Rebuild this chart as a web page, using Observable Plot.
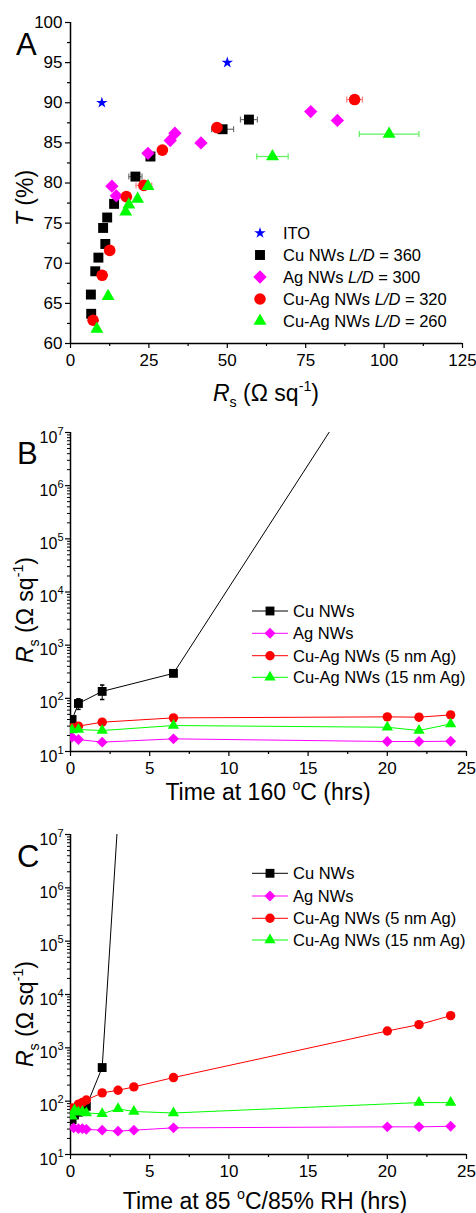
<!DOCTYPE html>
<html><head><meta charset="utf-8">
<script src="https://cdn.jsdelivr.net/npm/d3@7"></script>
<script src="https://cdn.jsdelivr.net/npm/@observablehq/plot@0.6"></script>
<style>
body{margin:0;background:#fff;}
#chart{width:476px;}
svg{display:block;}
</style></head><body><div id="chart"></div>
<script>
// ---------- Panel A: T (%) vs Rs ----------
const itoRs = [10, 50];
const itoT = [90, 95];
const cuRs = [6.5, 6.6, 7.9, 8.9, 10.4, 11.1, 11.7, 13.9, 20.7, 25.5, 48.5, 56.9];
const cuT = [66.1, 63.7, 69.0, 70.7, 74.4, 72.4, 75.7, 77.4, 80.8, 83.3, 86.7, 87.9];
const cuRsErr = [0, 0, 0, 0, 0, 0, 0, 0, 2.1, 0, 3.5, 2.7];
const agRs = [13.2, 14.6, 24.7, 31.8, 33.3, 41.6, 76.6, 85.1];
const agT = [79.6, 78.4, 83.7, 85.3, 86.2, 85.0, 88.9, 87.8];
const cuag320Rs = [7.2, 10.1, 12.5, 17.8, 23.4, 29.3, 46.7, 90.6];
const cuag320T = [62.9, 68.5, 71.6, 78.3, 79.7, 84.1, 86.9, 90.4];
const cuag320RsErr = [0, 0, 0, 0, 2.5, 0, 0, 2.5];
const cuag260Rs = [8.4, 12.0, 17.6, 18.6, 21.4, 24.7, 64.4, 101.6];
const cuag260T = [61.8, 65.9, 76.4, 77.3, 78.0, 79.6, 83.3, 86.1];
const cuag260RsErr = [0, 0, 0, 0, 0, 0, 5.0, 9.5];
const xTicksA = [0, 25, 50, 75, 100, 125];
const yTicksA = [60, 65, 70, 75, 80, 85, 90, 95, 100];

// ---------- Panel B: Rs vs time at 160 °C ----------
const heatCuTime = [0.1, 0.5, 2, 6.5, 20];
const heatCu = [40, 80, 135, 295, 5e8];
const heatCuLo = [NaN, 62, 95, NaN, NaN];
const heatCuHi = [NaN, 98, 178, NaN, NaN];
const heatTime = [0.1, 0.5, 2, 6.5, 20, 22, 24];
const heatAg = [18.6, 16.8, 15.0, 17.3, 15.4, 15.4, 15.6];
const heatCuAg5 = [28, 30, 35.6, 42.9, 44.8, 44.2, 48.8];
const heatCuAg15 = [25.5, 25.9, 24.8, 30.8, 28.6, 24.8, 33];

// ---------- Panel C: Rs vs time at 85 °C / 85% RH ----------
const humidCuTime = [0.1, 0.25, 0.5, 1, 2, 3];
const humidCu = [45, 55, 62, 80, 427, 2.1e7];
const humidAgTime = [0.2, 0.5, 0.75, 1, 2, 3, 4, 6.5, 20, 22, 24];
const humidAg = [31.6, 30.5, 30.5, 29.6, 28.6, 27.4, 28.6, 31.6, 33, 33, 33.8];
const humidCuAg5Time = [0.1, 0.5, 0.75, 1, 2, 3, 4, 6.5, 20, 22, 24];
const humidCuAg5 = [75, 88, 95, 105, 143, 160, 185, 277, 2070, 2720, 4010];
const humidCuAg15Time = [0.1, 0.25, 0.5, 0.75, 1, 2, 3, 4, 6.5, 22, 24];
const humidCuAg15 = [52, 68, 62, 64, 60, 58, 72, 64, 60, 94, 94];

const timeTicks = [0, 5, 10, 15, 20, 25];
const timeMinor = [2.5, 7.5, 12.5, 17.5, 22.5];
const logTicks = [1e1, 1e2, 1e3, 1e4, 1e5, 1e6, 1e7];

// ---------- helpers ----------
const FONT = "'Liberation Sans', Arial, Helvetica, sans-serif";
const zip = (xs, ys, es) => xs.map((x, i) => ({x, y: ys[i], e: es ? es[i] : 0}));
const vbar = {draw(ctx, size) { const h = Math.sqrt(size) / 2; ctx.moveTo(0, -h); ctx.lineTo(0, h); }};
const hbar = {draw(ctx, size) { const h = Math.sqrt(size) / 2; ctx.moveTo(-h, 0); ctx.lineTo(h, 0); }};
const logMinor = [];
for (let p = 1; p < 7; p++) for (let k = 2; k <= 9; k++) logMinor.push(k * 10 ** p);

function rich(sel, parts, fs) {
  let shift = 0;
  for (const p of parts) {
    const ts = sel.append("tspan").text(p.t);
    const target = p.sub ? 0.28 * fs : p.sup ? -0.42 * fs : 0;
    if (target !== shift) { ts.attr("dy", target - shift); shift = target; }
    if (p.sub || p.sup) ts.style("font-size", (0.62 * fs) + "px");
    if (p.i) ts.attr("font-style", "italic");
  }
}
function addText(svg, x, y, parts, fs, opts = {}) {
  const t = d3.select(svg).append("text")
    .attr("font-family", FONT).style("font-size", fs + "px").attr("fill", "#000")
    .attr("text-anchor", opts.anchor || "start");
  if (opts.rotate) t.attr("transform", `translate(${x},${y}) rotate(-90)`);
  else t.attr("x", x).attr("y", y);
  rich(t, parts, fs);
  return t;
}
const rsParts = [{t: "R", i: true}, {t: "s", sub: true}, {t: " (\u03A9 sq"}, {t: "-1", sup: true}, {t: ")"}];

// ---------- Panel A ----------
const A = {
  ito: zip(itoRs, itoT), cu: zip(cuRs, cuT, cuRsErr), ag: zip(agRs, agT),
  r: zip(cuag320Rs, cuag320T, cuag320RsErr), g: zip(cuag260Rs, cuag260T, cuag260RsErr)
};
function errMarks(rows, color) {
  const e = rows.filter(d => d.e > 0);
  return [
    Plot.ruleY(e, {y: "y", x1: d => d.x - d.e, x2: d => d.x + d.e, stroke: color, strokeWidth: 1.2}),
    Plot.dot(e, {x: d => d.x - d.e, y: "y", symbol: vbar, r: 3.4, stroke: color, strokeWidth: 1.2, fill: "none"}),
    Plot.dot(e, {x: d => d.x + d.e, y: "y", symbol: vbar, r: 3.4, stroke: color, strokeWidth: 1.2, fill: "none"})
  ];
}
const plotA = Plot.plot({
  width: 476, height: 410, marginTop: 22, marginBottom: 67, marginLeft: 70, marginRight: 14,
  style: {fontFamily: FONT, fontSize: "17px", color: "#000", background: "#fff"},
  x: {domain: [0, 125], label: null},
  y: {domain: [60, 100], label: null},
  marks: [
    Plot.axisX({ticks: xTicksA, tickSize: 5, tickPadding: 5, strokeWidth: 1.2, label: null}),
    Plot.axisX({ticks: [12.5, 37.5, 62.5, 87.5, 112.5], tickSize: 3, tickFormat: () => "", strokeWidth: 1.2, label: null}),
    Plot.axisY({ticks: yTicksA, tickSize: 5, tickPadding: 3, strokeWidth: 1.2, label: null}),
    Plot.axisY({ticks: [62.5, 67.5, 72.5, 77.5, 82.5, 87.5, 92.5, 97.5], tickSize: 3, tickFormat: () => "", strokeWidth: 1.2, label: null}),
    Plot.ruleX([0], {strokeWidth: 1.5}),
    Plot.ruleY([60], {strokeWidth: 1.5}),
    ...errMarks(A.cu, "#707070"),
    ...errMarks(A.r, "#ff8080"),
    ...errMarks(A.g, "#5ef05e"),
    Plot.dot(A.cu, {x: "x", y: "y", symbol: "square", r: 5.6, fill: "#000"}),
    Plot.dot(A.ag, {x: "x", y: "y", symbol: "diamond2", r: 6.0, fill: "#ff00ff"}),
    Plot.dot(A.r, {x: "x", y: "y", symbol: "circle", r: 5.8, fill: "#ff0000"}),
    Plot.dot(A.g, {x: "x", y: "y", symbol: "triangle", r: 4.8, fill: "#00ff00"}),
    Plot.dot(A.ito, {x: "x", y: "y", symbol: "star", r: 3.6, fill: "#0000ff"})
  ]
});
document.getElementById("chart").appendChild(plotA);
addText(plotA, 16, 55, [{t: "A"}], 31);
addText(plotA, 33, 198, [{t: "T", i: true}, {t: " (%)"}], 23, {rotate: true, anchor: "middle"});
addText(plotA, 266, 401, rsParts, 23, {anchor: "middle"});
(function legendA() {
  const items = [
    {sym: d3.symbolStar, r: 3.6, c: "#0000ff", parts: [{t: "ITO"}]},
    {sym: d3.symbolSquare, r: 5.6, c: "#000", parts: [{t: "Cu NWs "}, {t: "L/D", i: true}, {t: " = 360"}]},
    {sym: d3.symbolDiamond2, r: 6.0, c: "#ff00ff", parts: [{t: "Ag NWs "}, {t: "L/D", i: true}, {t: " = 300"}]},
    {sym: d3.symbolCircle, r: 5.8, c: "#ff0000", parts: [{t: "Cu-Ag NWs "}, {t: "L/D", i: true}, {t: " = 320"}]},
    {sym: d3.symbolTriangle, r: 4.8, c: "#00ff00", parts: [{t: "Cu-Ag NWs "}, {t: "L/D", i: true}, {t: " = 260"}]}
  ];
  const ys = [233, 255, 277, 299, 321];
  items.forEach((it, i) => {
    d3.select(plotA).append("path")
      .attr("d", d3.symbol(it.sym, it.r * it.r * Math.PI)())
      .attr("transform", `translate(260,${ys[i]})`).attr("fill", it.c);
    addText(plotA, 283, ys[i] + 6, it.parts, 16.5);
  });
})();

// ---------- Panels B & C ----------
function logPanel(cfg) {
  const marks = [
    Plot.axisX({ticks: timeTicks, tickSize: 5, tickPadding: 5, strokeWidth: 1.2, label: null}),
    Plot.axisX({ticks: timeMinor, tickSize: 3, tickFormat: () => "", strokeWidth: 1.2, label: null}),
    Plot.axisY({ticks: logTicks, tickSize: 5, tickPadding: 2, strokeWidth: 1.2, label: null,
      tickFormat: d => "10^" + Math.round(Math.log10(d))}),
    Plot.axisY({ticks: logMinor, tickSize: 3, tickFormat: () => "", strokeWidth: 1, label: null}),
    Plot.ruleX([0], {strokeWidth: 1.5}),
    Plot.ruleY([10], {strokeWidth: 1.5})
  ];
  for (const s of cfg.series) {
    marks.push(Plot.line(s.rows, {x: "x", y: "y", stroke: s.c, strokeWidth: 1, clip: true}));
  }
  for (const eb of cfg.errs || []) {
    marks.push(Plot.ruleX(eb.rows, {x: "x", y1: "lo", y2: "hi", stroke: eb.c, strokeWidth: 1}));
    marks.push(Plot.dot(eb.rows, {x: "x", y: "lo", symbol: hbar, r: 2.5, stroke: eb.c, fill: "none"}));
    marks.push(Plot.dot(eb.rows, {x: "x", y: "hi", symbol: hbar, r: 2.5, stroke: eb.c, fill: "none"}));
  }
  for (const s of cfg.series) {
    marks.push(Plot.dot(s.rows, {x: "x", y: "y", symbol: s.sym, r: s.r, fill: s.c, clip: true}));
  }
  const svg = Plot.plot({
    width: 476, height: cfg.height, marginTop: cfg.top, marginBottom: cfg.bottom, marginLeft: 70, marginRight: 10,
    style: {fontFamily: FONT, fontSize: "17px", color: "#000", background: "#fff"},
    x: {domain: [0, 25], label: null},
    y: {type: "log", domain: [10, 1e7], label: null},
    marks
  });
  document.getElementById("chart").appendChild(svg);
  // superscript tick labels
  d3.select(svg).selectAll("text").each(function () {
    const s = this.textContent;
    if (!s.startsWith("10^")) return;
    const e = s.slice(3);
    const t = d3.select(this);
    t.text(null).attr("y", 10).style("font-size", "16px");
    t.append("tspan").text("10");
    t.append("tspan").text(e).style("font-size", "11px").attr("dy", -8);
  });
  addText(svg, 17, cfg.letterY, [{t: cfg.letter}], 31);
  addText(svg, 33, cfg.ytitleY, rsParts, 23, {rotate: true, anchor: "middle"});
  addText(svg, cfg.xtitleX, cfg.xtitleY, cfg.xtitle, 23, {anchor: "middle"});
  cfg.series.forEach((s, i) => {
    const y = cfg.legendY[i];
    const g = d3.select(svg);
    g.append("line").attr("x1", 252).attr("x2", 288).attr("y1", y).attr("y2", y).attr("stroke", s.c).attr("stroke-width", 1);
    g.append("path").attr("d", d3.symbol(s.d3sym, s.r * s.r * Math.PI)())
      .attr("transform", `translate(270,${y})`).attr("fill", s.c);
    addText(svg, 293, y + 6, [{t: s.label}], 16.5);
  });
  return svg;
}
const seriesStyle = [
  {label: "Cu NWs", c: "#000", sym: "square", d3sym: d3.symbolSquare, r: 5.0},
  {label: "Ag NWs", c: "#ff00ff", sym: "diamond2", d3sym: d3.symbolDiamond2, r: 4.9},
  {label: "Cu-Ag NWs (5 nm Ag)", c: "#ff0000", sym: "circle", d3sym: d3.symbolCircle, r: 4.7},
  {label: "Cu-Ag NWs (15 nm Ag)", c: "#00ff00", sym: "triangle", d3sym: d3.symbolTriangle, r: 4.2}
];
const heatRows = [zip(heatCuTime, heatCu), zip(heatTime, heatAg), zip(heatTime, heatCuAg5), zip(heatTime, heatCuAg15)];
const humidRows = [zip(humidCuTime, humidCu), zip(humidAgTime, humidAg), zip(humidCuAg5Time, humidCuAg5), zip(humidCuAg15Time, humidCuAg15)];
const heatErr = heatCuTime.map((x, i) => ({x, lo: heatCuLo[i], hi: heatCuHi[i]})).filter(d => !isNaN(d.lo));

logPanel({
  height: 400, top: 22, bottom: 59, letter: "B", letterY: 54, ytitleY: 200,
  xtitleX: 268, xtitleY: 390,
  xtitle: [{t: "Time at 160 "}, {t: "o", sup: true}, {t: "C (hrs)"}],
  legendY: [201, 223.3, 245.7, 267.3],
  series: seriesStyle.map((s, i) => ({...s, rows: heatRows[i]})),
  errs: [{rows: heatErr, c: "#000"}]
});
logPanel({
  height: 403, top: 24, bottom: 59, letter: "C", letterY: 57, ytitleY: 204,
  xtitleX: 265, xtitleY: 399,
  xtitle: [{t: "Time at 85 "}, {t: "o", sup: true}, {t: "C/85% RH (hrs)"}],
  legendY: [63.3, 86, 108.3, 130],
  series: seriesStyle.map((s, i) => ({...s, rows: humidRows[i]}))
});
</script></body></html>
